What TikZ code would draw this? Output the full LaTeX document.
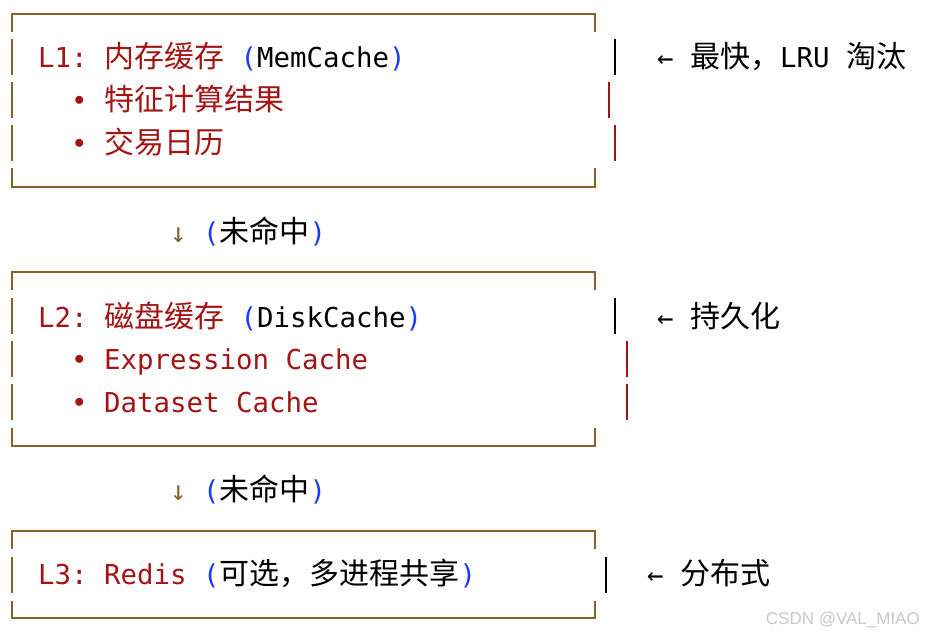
\documentclass[tikz,border=0pt]{standalone}
\usepackage{fontspec}
\setmonofont{DejaVu Sans Mono}
\newfontfamily\cjk{Noto Sans CJK SC}[Scale=1.095]
\newfontfamily\wmfont{Liberation Sans}
\usepackage{xcolor}
\definecolor{boxbrown}{RGB}{130,100,40}
\definecolor{kwred}{RGB}{163,21,21}
\definecolor{parblue}{RGB}{20,60,255}
\newcommand{\codefont}{\fontsize{27.4}{32}\selectfont\ttfamily}
\newcommand{\zh}[1]{{\cjk #1}}
\tikzset
{
  boxline/.style={draw=boxbrown,line width=2pt},
  rowbar/.style={line width=2pt},
  codetext/.style={anchor=base west,inner sep=0pt,font=\codefont}
}

\begin{document}
\begin{tikzpicture}[x=1pt,y=-1pt]

    \useasboundingbox (0,0) rectangle (925,634);

    % Draw the frame of L1
    \draw[boxline] (12,32) -- (12,14) -- (595,14) -- (595,32);
    \draw[boxline] (12,39) -- (12,75) (12,82) -- (12,118) (12,125) -- (12,161);
    \draw[boxline] (12,168) -- (12,187) -- (595,187) -- (595,168);
    \draw[rowbar] (615,39) -- (615,75);
    \draw[rowbar, kwred] (609,82) -- (609,118);
    \draw[rowbar, kwred] (615,125) -- (615,161);

    % Texts of L1
    \node[codetext, text=kwred] (l1title) at (38,67) {L1: \zh{内存缓存} \textcolor{parblue}{(}\textcolor{black}{MemCache}\textcolor{parblue}{)}};
    \node[codetext, text=kwred] (l1feat) at (71,110) {• \zh{特征计算结果}};
    \node[codetext, text=kwred] (l1cal) at (71,153) {• \zh{交易日历}};
    \node[codetext] (l1note) at (657,67) {← \zh{最快，}LRU \zh{淘汰}};

    % Miss to L2
    \node[codetext] (miss1) at (170,242) {\textcolor{boxbrown}{↓} \textcolor{parblue}{(}\zh{未命中}\textcolor{parblue}{)}};

    % Draw the frame of L2
    \draw[boxline] (12,290) -- (12,272) -- (595,272) -- (595,290);
    \draw[boxline] (12,298) -- (12,334) (12,341) -- (12,377) (12,384) -- (12,420);
    \draw[boxline] (12,428) -- (12,446) -- (595,446) -- (595,428);
    \draw[rowbar] (615,298) -- (615,334);
    \draw[rowbar, kwred] (627,341) -- (627,377);
    \draw[rowbar, kwred] (627,384) -- (627,420);

    % Texts of L2
    \node[codetext, text=kwred] (l2title) at (38,327) {L2: \zh{磁盘缓存} \textcolor{parblue}{(}\textcolor{black}{DiskCache}\textcolor{parblue}{)}};
    \node[codetext, text=kwred] (l2expr) at (71,369) {• Expression Cache};
    \node[codetext, text=kwred] (l2data) at (71,412) {• Dataset Cache};
    \node[codetext] (l2note) at (657,327) {← \zh{持久化}};

    % Miss to L3
    \node[codetext] (miss2) at (170,500) {\textcolor{boxbrown}{↓} \textcolor{parblue}{(}\zh{未命中}\textcolor{parblue}{)}};

    % Draw the frame of L3
    \draw[boxline] (12,549) -- (12,531) -- (595,531) -- (595,549);
    \draw[boxline] (12,557) -- (12,593);
    \draw[boxline] (12,601) -- (12,618) -- (595,618) -- (595,601);
    \draw[rowbar] (606,557) -- (606,593);

    % Texts of L3
    \node[codetext, text=kwred] (l3title) at (38,584) {L3: Redis \textcolor{parblue}{(}\textcolor{black}{\zh{可选，多进程共享}}\textcolor{parblue}{)}};
    \node[codetext] (l3note) at (647,584) {← \zh{分布式}};

    % Watermark
    \node[anchor=base east, inner sep=0pt, text=black!22, font=\wmfont\fontsize{17}{20}\selectfont] (mark) at (920,624) {CSDN @VAL\_MIAO};

\end{tikzpicture}
\end{document}
